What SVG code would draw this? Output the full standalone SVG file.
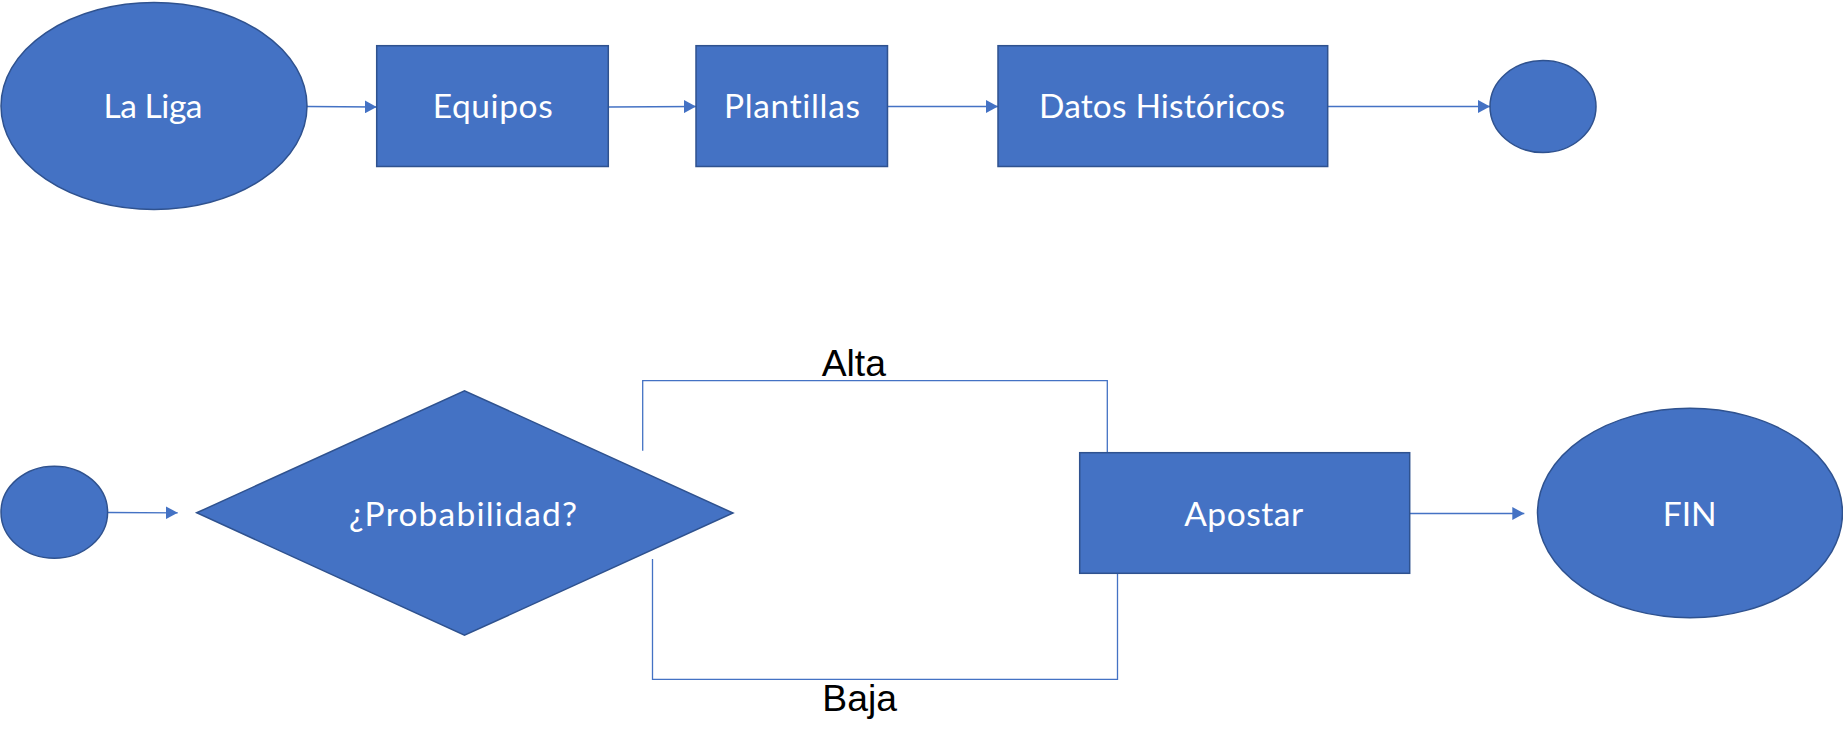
<svg xmlns="http://www.w3.org/2000/svg" width="1843" height="741" viewBox="0 0 1843 741">
  <style>
    .shape { fill:#4472C4; stroke:#2F528F; stroke-width:1.5; }
    .conn { stroke:#4472C4; stroke-width:1.3; fill:none; }
    .lbl { font-family: Lato, "Open Sans", "Noto Sans", sans-serif; font-size:33.5px; fill:#FFFFFF; text-anchor:middle; font-variant-ligatures:none; font-feature-settings:"liga" 0, "clig" 0; }
    .edge { font-family: "Liberation Sans", Arial, sans-serif; font-size:37.3px; fill:#000000; text-anchor:middle; }
  </style>
  <defs>
    <marker id="arrow" markerUnits="userSpaceOnUse" markerWidth="13" markerHeight="13" refX="12" refY="6.5" orient="auto">
      <path d="M0,0 L12,6.5 L0,13 Z" fill="#4472C4"/>
    </marker>
  </defs>
  <rect x="0" y="0" width="1843" height="741" fill="#FFFFFF"/>

  <g id="connectors">
    <line class="conn" x1="307" y1="106.5" x2="376.7" y2="107" marker-end="url(#arrow)"/>
    <line class="conn" x1="608.3" y1="107" x2="696" y2="106.5" marker-end="url(#arrow)"/>
    <line class="conn" x1="887.5" y1="106.5" x2="998" y2="106.5" marker-end="url(#arrow)"/>
    <line class="conn" x1="1327.7" y1="106.5" x2="1490" y2="106.5" marker-end="url(#arrow)"/>
    <line class="conn" x1="107.7" y1="512.5" x2="177.7" y2="512.8" marker-end="url(#arrow)"/>
    <line class="conn" x1="1409.7" y1="513.5" x2="1524.3" y2="513.5" marker-end="url(#arrow)"/>
    <polyline class="conn" points="642.7,450.7 642.7,380.7 1107.3,380.7 1107.3,452.7"/>
    <polyline class="conn" points="652.5,559 652.5,679.3 1117.5,679.3 1117.5,573.3"/>
    <text class="edge" x="853.8" y="376">Alta</text>
    <text class="edge" x="859.7" y="710.7">Baja</text>
  </g>

  <g id="la-liga">
    <ellipse class="shape" cx="154" cy="106" rx="153" ry="103.5"/>
    <text class="lbl" x="153" y="118.3" textLength="99">La Liga</text>
  </g>
  <g id="equipos">
    <rect class="shape" x="376.7" y="45.7" width="231.6" height="120.8"/>
    <text class="lbl" x="492.7" y="118.3" textLength="120">Equipos</text>
  </g>
  <g id="plantillas">
    <rect class="shape" x="696" y="45.7" width="191.5" height="120.8"/>
    <text class="lbl" x="792" y="118.3" textLength="136">Plantillas</text>
  </g>
  <g id="datos-historicos">
    <rect class="shape" x="998" y="45.7" width="329.7" height="120.8"/>
    <text class="lbl" x="1162" y="118.3" textLength="246">Datos Históricos</text>
  </g>
  <g id="top-end-circle">
    <ellipse class="shape" cx="1543" cy="106.5" rx="53" ry="46"/>
  </g>

  <g id="start-circle">
    <ellipse class="shape" cx="54.3" cy="512.2" rx="53.3" ry="46"/>
  </g>
  <g id="probabilidad">
    <polygon class="shape" points="196.7,512.8 464.5,390.7 733,513 464.5,635.3"/>
    <text class="lbl" x="463" y="525.7" textLength="228">¿Probabilidad?</text>
  </g>
  <g id="apostar">
    <rect class="shape" x="1079.7" y="452.7" width="330" height="120.6"/>
    <text class="lbl" x="1243.7" y="526" textLength="119">Apostar</text>
  </g>
  <g id="fin">
    <ellipse class="shape" cx="1690" cy="513" rx="152.5" ry="104.7"/>
    <text class="lbl" x="1689.7" y="526">FIN</text>
  </g>
</svg>
